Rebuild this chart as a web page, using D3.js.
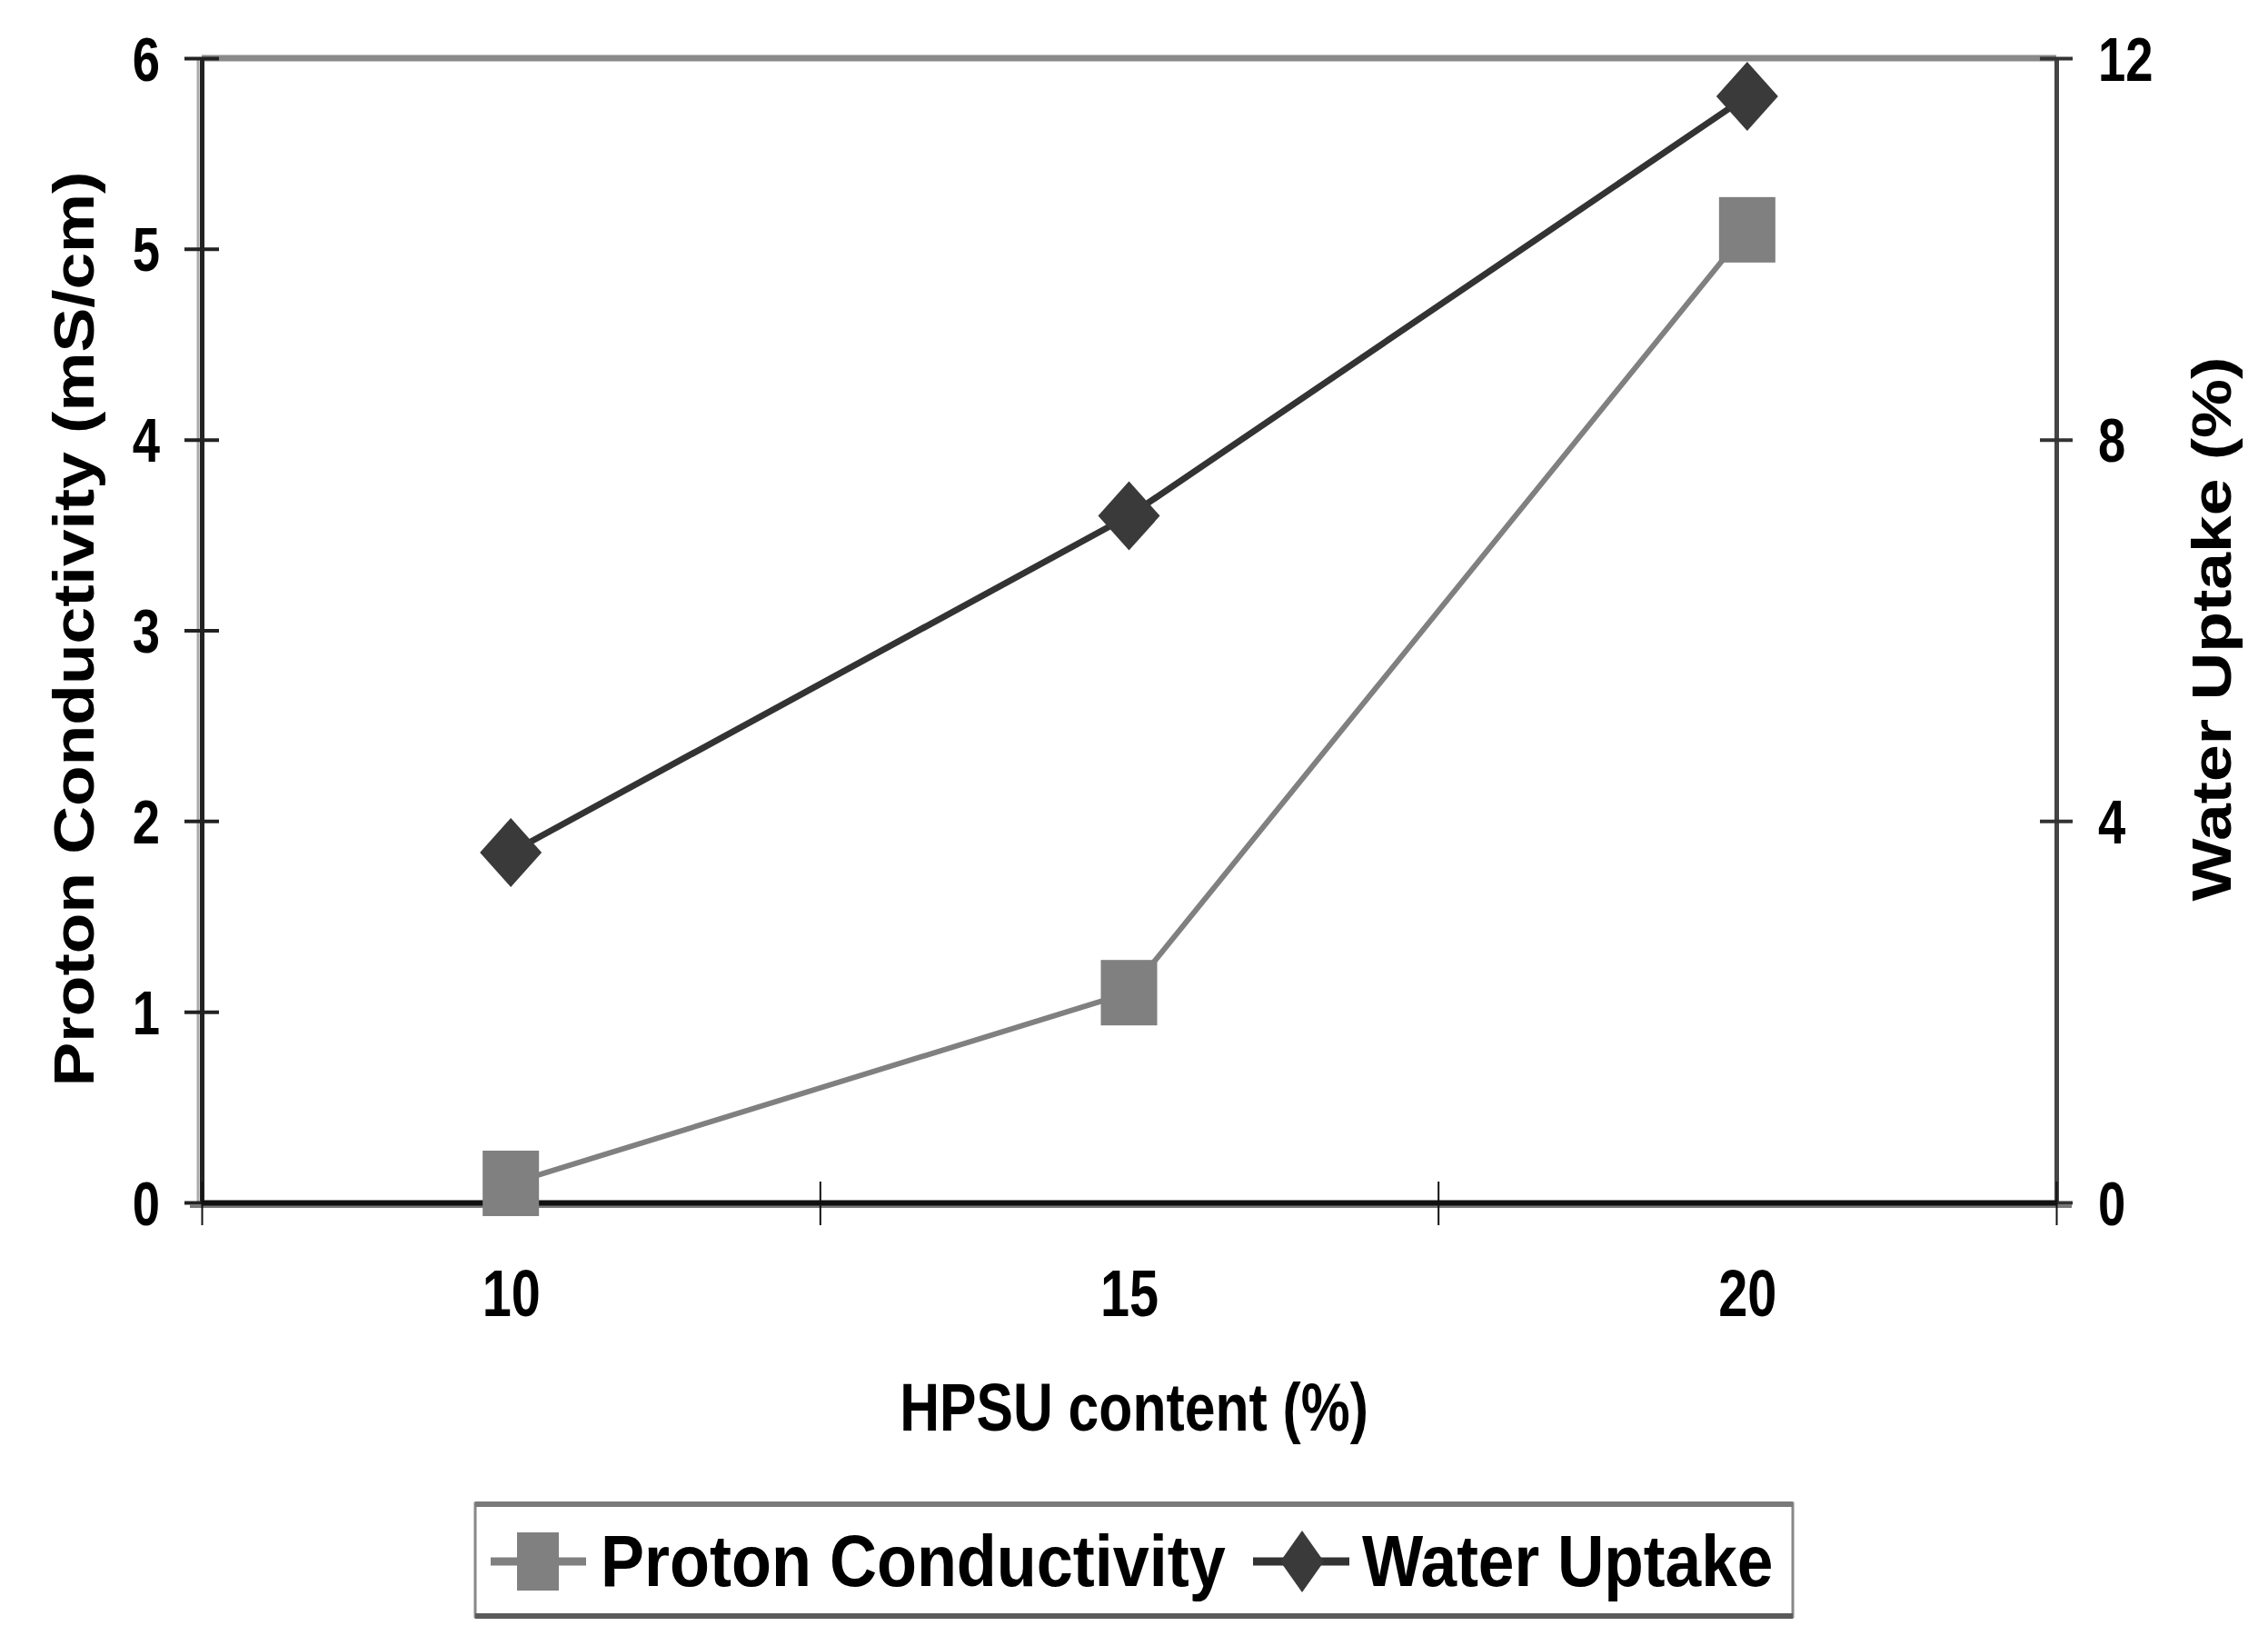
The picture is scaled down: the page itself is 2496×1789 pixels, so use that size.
<!DOCTYPE html>
<html>
<head>
<meta charset="utf-8">
<script src="https://cdnjs.cloudflare.com/ajax/libs/d3/7.8.5/d3.min.js"></script>
<style>
  body { margin: 0; background: #fff; }
  text { font-family: "Liberation Sans", Arial, sans-serif; font-weight: bold; fill: #000; }
</style>
</head>
<body>
<script>
// data
var hpsu = [10, 15, 20];
var conductivity = [0.1, 1.1, 5.1];     // mS/cm, left axis
var waterUptake = [3.67, 7.2, 11.6];    // %, right axis
var leftTicks = [0, 1, 2, 3, 4, 5, 6];
var rightTicks = [0, 4, 8, 12];
var xBounds = [7.5, 12.5, 17.5, 22.5];
var seriesNames = ["Proton Conductivity", "Water Uptake"];

var width = 2496,
    height = 1789;

var svg = d3.select("body")
            .append("svg")
            .attr("width", width)
            .attr("height", height);

var x = d3.scaleLinear().domain([7.5, 22.5]).range([222, 2263]);
var yL = d3.scaleLinear().domain([0, 6]).range([1323, 64]);
var yR = d3.scaleLinear().domain([0, 12]).range([1323, 64]);

var squeeze = 0.8; // the source picture is stretched vertically

// top frame line
svg.append("line")
    .attr("x1", x.range()[0]).attr("x2", x.range()[1])
    .attr("y1", yL.range()[1]).attr("y2", yL.range()[1])
    .attr("stroke", "#8a8a8a").attr("stroke-width", 7);

// left axis
var gL = svg.append("g").attr("transform", "translate(" + x.range()[0] + ",0)");
gL.append("line")
    .attr("x1", -4).attr("x2", -4)
    .attr("y1", yL.range()[1]).attr("y2", yL.range()[0])
    .attr("stroke", "#aaa").attr("stroke-width", 3);
gL.call(d3.axisLeft(yL).tickValues(leftTicks).tickFormat(d3.format("d")).tickSize(19).tickSizeOuter(0))
  .call(function(g) {
    g.select(".domain").attr("stroke", "#222").attr("stroke-width", 5);
    g.selectAll(".tick line").attr("x1", 19).attr("stroke", "#222").attr("stroke-width", 4);
    g.selectAll(".tick text")
      .attr("x", null).attr("dy", null)
      .attr("font-size", 68)
      .attr("text-anchor", "end")
      .attr("transform", "translate(-46,24) scale(" + squeeze + ",1)");
  });

// right axis
var gR = svg.append("g").attr("transform", "translate(" + x.range()[1] + ",0)");
gR.call(d3.axisRight(yR).tickValues(rightTicks).tickFormat(d3.format("d")).tickSize(18).tickSizeOuter(0))
  .call(function(g) {
    g.select(".domain").attr("stroke", "#444").attr("stroke-width", 5);
    g.selectAll(".tick line").attr("x1", -18).attr("stroke", "#333").attr("stroke-width", 4);
    g.selectAll(".tick text")
      .attr("x", null).attr("dy", null)
      .attr("font-size", 68)
      .attr("text-anchor", "start")
      .attr("transform", "translate(46,24) scale(" + squeeze + ",1)");
  });

// bottom axis: boundaries between categories
var gB = svg.append("g").attr("transform", "translate(0," + yL.range()[0] + ")");
gB.append("line")
    .attr("x1", x.range()[0] - 13).attr("x2", x.range()[1] + 17)
    .attr("y1", 4).attr("y2", 4)
    .attr("stroke", "#777").attr("stroke-width", 4);
gB.call(d3.axisBottom(x).tickValues(xBounds).tickSize(25).tickSizeOuter(0).tickFormat(""))
  .call(function(g) {
    g.select(".domain").attr("stroke", "#111").attr("stroke-width", 6);
    g.selectAll(".tick line").attr("y1", -23).attr("stroke", "#111").attr("stroke-width", 2);
  });

// bottom category labels
svg.append("g")
    .attr("transform", "translate(0," + yL.range()[0] + ")")
    .call(d3.axisBottom(x).tickValues(hpsu).tickSize(0).tickFormat(d3.format("d")))
    .call(function(g) {
      g.select(".domain").remove();
      g.selectAll(".tick text")
        .attr("y", null).attr("dy", null)
        .attr("font-size", 72)
        .attr("text-anchor", "middle")
        .attr("transform", "translate(0,125) scale(" + squeeze + ",1)");
    });

// axis titles
svg.append("text")
    .attr("transform", "translate(1248,1574) scale(0.82,1)")
    .attr("text-anchor", "middle")
    .attr("font-size", 74)
    .text("HPSU content (%)");

svg.append("text")
    .attr("transform", "translate(103,692) rotate(-90) scale(1.16,1)")
    .attr("text-anchor", "middle")
    .attr("font-size", 63)
    .text("Proton Conductivity (mS/cm)");

svg.append("text")
    .attr("transform", "translate(2455,692) rotate(-90) scale(1.18,1)")
    .attr("text-anchor", "middle")
    .attr("font-size", 62)
    .text("Water Uptake (%)");

// series
var pcData = hpsu.map(function(d, i) { return [d, conductivity[i]]; });
var wuData = hpsu.map(function(d, i) { return [d, waterUptake[i]]; });

svg.append("path")
    .datum(pcData)
    .attr("fill", "none")
    .attr("stroke", "#808080")
    .attr("stroke-width", 6)
    .attr("d", d3.line().x(function(d) { return x(d[0]); }).y(function(d) { return yL(d[1]); }));

svg.append("path")
    .datum(wuData)
    .attr("fill", "none")
    .attr("stroke", "#333")
    .attr("stroke-width", 7)
    .attr("d", d3.line().x(function(d) { return x(d[0]); }).y(function(d) { return yR(d[1]); }));

function diamond(w, h) {
  return "M0," + (-h / 2) + "L" + (w / 2) + ",0L0," + (h / 2) + "L" + (-w / 2) + ",0Z";
}

svg.append("g").selectAll("rect")
    .data(pcData)
    .enter().append("rect")
    .attr("x", function(d) { return x(d[0]) - 31; })
    .attr("y", function(d) { return yL(d[1]) - 36; })
    .attr("width", 62)
    .attr("height", 72)
    .attr("fill", "#808080");

svg.append("g").selectAll("path")
    .data(wuData)
    .enter().append("path")
    .attr("transform", function(d) { return "translate(" + x(d[0]) + "," + yR(d[1]) + ")"; })
    .attr("d", diamond(68, 76))
    .attr("fill", "#3a3a3a");

// legend
var lg = svg.append("g");
lg.append("rect")
    .attr("x", 523).attr("y", 1654)
    .attr("width", 1450).attr("height", 125)
    .attr("fill", "#fff").attr("stroke", "#888").attr("stroke-width", 3);
lg.append("line").attr("x1", 523).attr("x2", 1973).attr("y1", 1655).attr("y2", 1655)
    .attr("stroke", "#7a7a7a").attr("stroke-width", 6);
lg.append("line").attr("x1", 523).attr("x2", 1973).attr("y1", 1778).attr("y2", 1778)
    .attr("stroke", "#5a5a5a").attr("stroke-width", 6);

// proton conductivity entry
lg.append("line").attr("x1", 540).attr("x2", 645).attr("y1", 1718).attr("y2", 1718)
    .attr("stroke", "#808080").attr("stroke-width", 9);
lg.append("rect").attr("x", 569).attr("y", 1686).attr("width", 46).attr("height", 64)
    .attr("fill", "#808080");
lg.append("text")
    .attr("transform", "translate(661,1745) scale(0.9,1)")
    .attr("font-size", 80)
    .text(seriesNames[0]);

// water uptake entry
lg.append("line").attr("x1", 1379).attr("x2", 1485).attr("y1", 1718).attr("y2", 1718)
    .attr("stroke", "#333").attr("stroke-width", 9);
lg.append("path").attr("transform", "translate(1433,1718)")
    .attr("d", diamond(48, 68))
    .attr("fill", "#3a3a3a");
lg.append("text")
    .attr("transform", "translate(1499,1745) scale(0.89,1)")
    .attr("font-size", 80)
    .text(seriesNames[1]);
</script>
</body>
</html>
